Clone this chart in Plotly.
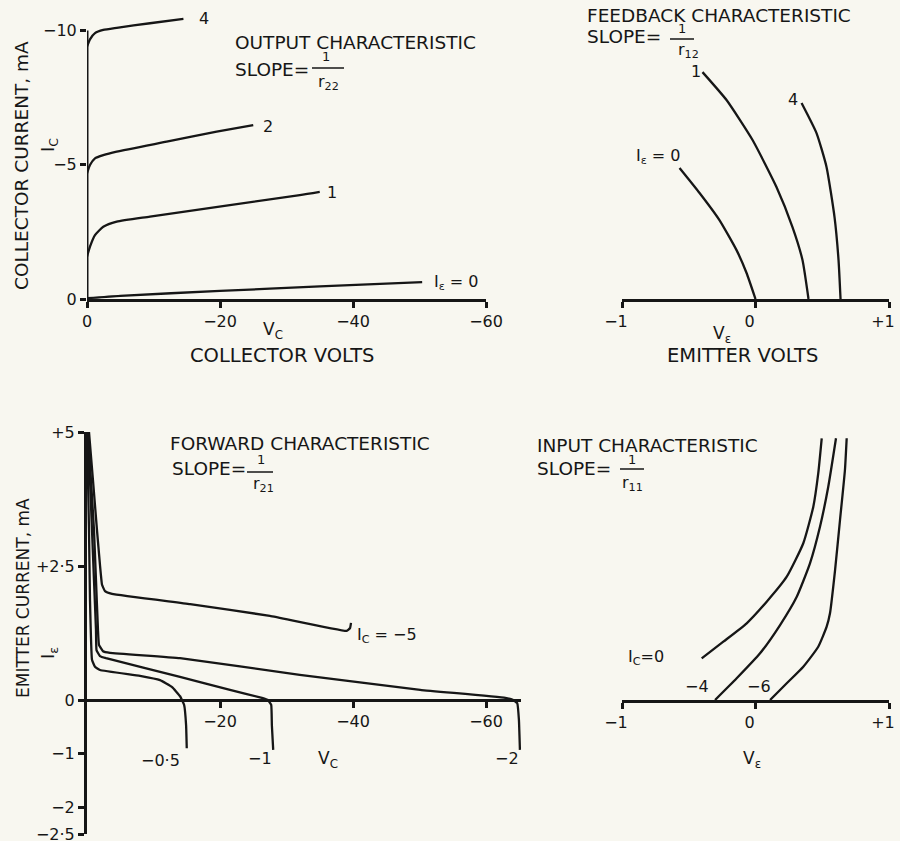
import plotly.graph_objects as go

W, H = 900, 841
FONT = "DejaVu Sans"
INK = "#161616"
BG = "#f8f7f0"

# ---------------- data ----------------
# Output characteristic: collector volts vs collector current (mA), per emitter current
out_vc_ie4 = [0, -0.45, -1.2, -2.45, -4.47, -9.47, -14.5]
out_ic_ie4 = [-9.40, -9.67, -9.90, -10.02, -10.10, -10.27, -10.43]
out_vc_ie2 = [0, -0.45, -1.2, -2.45, -4.47, -11.98, -19.5, -25.0]
out_ic_ie2 = [-4.68, -4.99, -5.24, -5.36, -5.49, -5.86, -6.23, -6.48]
out_vc_ie1 = [0, -0.45, -1.2, -2.45, -4.47, -9.47, -32.0, -35.0]
out_ic_ie1 = [-1.58, -1.95, -2.38, -2.69, -2.88, -3.07, -3.87, -3.99]
out_vc_ie0 = [0, -5, -20, -35, -50.4]
out_ic_ie0 = [-0.03, -0.12, -0.30, -0.47, -0.63]

# Feedback characteristic: emitter volts vs collector current (mA)
fb_ve_ie0 = [-0.569, -0.419, -0.270, -0.142, -0.067, 0.0]
fb_ic_ie0 = [-4.88, -3.95, -2.94, -1.82, -0.97, 0.0]
fb_ve_ie1 = [-0.397, -0.217, -0.022, 0.157, 0.277, 0.352, 0.397]
fb_ic_ie1 = [-8.45, -7.41, -5.92, -4.17, -2.68, -1.45, 0.0]
fb_ve_ie4 = [0.345, 0.457, 0.532, 0.592, 0.622, 0.637]
fb_ic_ie4 = [-7.30, -6.18, -4.92, -3.05, -1.45, 0.0]

# Forward characteristic: collector volts vs emitter current (mA), per collector current
fw_vc_ic5 = [-0.3, -0.9, -1.5, -1.95, -2.26, -2.71, -3.76, -15.5, -27.5, -39.05, -39.55, -39.7]
fw_ie_ic5 = [5.0, 4.10, 3.17, 2.52, 2.15, 2.03, 1.98, 1.79, 1.57, 1.29, 1.34, 1.44]
fw_vc_ic2 = [-0.15, -0.6, -1.05, -1.35, -1.65, -1.8, -2.41, -3.46, -13.98, -32.0, -50.1,
             -62.9, -64.1, -64.7, -64.95, -65.1]
fw_ie_ic2 = [5.0, 4.10, 3.17, 2.24, 1.31, 1.03, 0.91, 0.88, 0.78, 0.47, 0.19,
             0.04, 0.0, -0.06, -0.37, -0.93]
fw_vc_ic1 = [-0.15, -0.45, -0.75, -1.05, -1.35, -1.43, -1.95, -2.86, -13.98, -21.5, -26.3,
             -27.2, -27.7, -27.8, -28.0]
fw_ie_ic1 = [5.0, 4.10, 3.17, 2.24, 1.31, 0.93, 0.82, 0.78, 0.43, 0.19, 0.04,
             0.0, -0.09, -0.47, -0.93]
fw_vc_ic05 = [-0.08, -0.15, -0.3, -0.45, -0.75, -1.2, -1.95, -7.97, -10.98, -12.8, -14.0,
              -14.6, -14.9, -15.0]
fw_ie_ic05 = [5.0, 4.10, 3.17, 1.87, 0.75, 0.62, 0.56, 0.45, 0.37, 0.24, 0.07,
              -0.09, -0.47, -0.90]

# Input characteristic: emitter volts vs emitter current (mA), per collector current
in_ve_ic0 = [-0.403, -0.241, -0.066, 0.084, 0.234, 0.358, 0.433, 0.470, 0.496]
in_ie_ic0 = [0.778, 1.088, 1.431, 1.834, 2.300, 2.924, 3.607, 4.229, 4.883]
in_ve_ic4 = [-0.303, -0.141, 0.034, 0.184, 0.309, 0.408, 0.483, 0.545, 0.603]
in_ie_ic4 = [0.0, 0.405, 0.871, 1.399, 1.927, 2.550, 3.233, 3.979, 4.883]
in_ve_ic6 = [0.109, 0.234, 0.358, 0.470, 0.533, 0.558, 0.596, 0.633, 0.670, 0.683]
in_ie_ic6 = [0.0, 0.312, 0.621, 0.994, 1.368, 1.618, 2.425, 3.358, 4.291, 4.883]

# tick labels
out_x_ticks = [0, -20, -40, -60]
out_x_text = ["0", "\u221220", "\u221240", "\u221260"]
out_y_ticks = [0, -5, -10]
out_y_text = ["0", "\u22125", "\u221210"]
ve_ticks = [-1, 0, 1]
ve_text = ["\u22121", "0", "+1"]
fw_x_ticks = [-20, -40, -60]
fw_x_text = ["\u221220", "\u221240", "\u221260"]
fw_y_ticks = [5, 2.5, 0, -1, -2, -2.5]
fw_y_text = ["+5", "+2\u00b75", "0", "\u22121", "\u22122", "\u22122\u00b75"]


def fx(p):
    return p / W


def fy(p):
    return 1 - p / H


fig = go.Figure()

LINE = dict(color=INK, width=2.3, shape="spline", smoothing=0.5)


def curve(x, y, xa, ya, smooth=0.5):
    ln = dict(LINE)
    ln["smoothing"] = smooth
    fig.add_trace(go.Scatter(x=x, y=y, mode="lines", line=ln, xaxis=xa, yaxis=ya,
                             hoverinfo="skip", showlegend=False))


curve(out_vc_ie4, out_ic_ie4, "x", "y")
curve(out_vc_ie2, out_ic_ie2, "x", "y")
curve(out_vc_ie1, out_ic_ie1, "x", "y")
curve(out_vc_ie0, out_ic_ie0, "x", "y")

curve(fb_ve_ie0, fb_ic_ie0, "x2", "y2")
curve(fb_ve_ie1, fb_ic_ie1, "x2", "y2")
curve(fb_ve_ie4, fb_ic_ie4, "x2", "y2")

curve(fw_vc_ic5, fw_ie_ic5, "x3", "y3", 0.3)
curve(fw_vc_ic2, fw_ie_ic2, "x3", "y3", 0.3)
curve(fw_vc_ic1, fw_ie_ic1, "x3", "y3", 0.3)
curve(fw_vc_ic05, fw_ie_ic05, "x3", "y3", 0.3)

curve(in_ve_ic0, in_ie_ic0, "x4", "y4")
curve(in_ve_ic4, in_ie_ic4, "x4", "y4")
curve(in_ve_ic6, in_ie_ic6, "x4", "y4")

TICKF = dict(family=FONT, size=16, color=INK)
AX = dict(showgrid=False, zeroline=False, ticks="outside", ticklen=6, tickwidth=2.5,
          tickcolor=INK, linecolor=INK, linewidth=3, tickfont=TICKF, fixedrange=True,
          automargin=False, ticklabeloverflow="allow")

top_y_dom = [fy(299), fy(10)]
top_y_rng = [0, -289 / 26.85]

fig.update_layout(
    width=W, height=H, autosize=False, margin=dict(l=0, r=0, t=0, b=0, pad=0),
    paper_bgcolor=BG, plot_bgcolor="rgba(0,0,0,0)", showlegend=False,
    xaxis=dict(AX, domain=[fx(87), fx(486)], range=[0, -60], anchor="y", showline=True,
               tickvals=out_x_ticks, ticktext=out_x_text),
    yaxis=dict(AX, domain=top_y_dom, range=top_y_rng, anchor="x", showline=False,
               tickvals=out_y_ticks, ticktext=out_y_text),
    xaxis2=dict(AX, domain=[fx(622), fx(889)], range=[-1, 1], anchor="y2", showline=True,
                tickvals=ve_ticks, ticktext=ve_text, ticklabelshift=-6),
    yaxis2=dict(domain=top_y_dom, range=top_y_rng, anchor="x2", visible=False,
                fixedrange=True, automargin=False),
    xaxis3=dict(AX, domain=[fx(87), fx(87 + 65.3 * 6.65)], range=[0, -65.3], anchor="free",
                position=fy(700), showline=True, tickvals=fw_x_ticks, ticktext=fw_x_text),
    yaxis3=dict(AX, domain=[fy(834), fy(432)], range=[-2.5, 5], anchor="x3", showline=True,
                tickvals=fw_y_ticks, ticktext=fw_y_text),
    xaxis4=dict(AX, domain=[fx(622), fx(889)], range=[-1, 1], anchor="y4", showline=True,
                tickvals=ve_ticks, ticktext=ve_text, ticklabelshift=-6),
    yaxis4=dict(domain=[fy(700), fy(432)], range=[0, 5], anchor="x4", visible=False,
                fixedrange=True, automargin=False),
)

shapes = []
# vertical axis line of the output characteristic, from 0 to -10 mA
shapes.append(dict(type="line", xref="x", yref="y", x0=0, x1=0, y0=0, y1=-10,
                   line=dict(color=INK, width=3)))


def bar(x0, x1, y):
    shapes.append(dict(type="line", xref="paper", yref="paper", x0=fx(x0), x1=fx(x1),
                       y0=fy(y), y1=fy(y), line=dict(color=INK, width=1.5)))


bar(312, 344, 68)
bar(670, 694, 39)
bar(247, 273, 472)
bar(620, 644, 469)
fig.update_layout(shapes=shapes)

anns = []


def T(text, x, y, size=15, xanchor="center", yanchor="middle", angle=0):
    anns.append(dict(text=text, x=fx(x), y=fy(y), xref="paper", yref="paper",
                     showarrow=False, xanchor=xanchor, yanchor=yanchor, textangle=angle,
                     font=dict(family=FONT, size=size, color=INK)))


TS = 18.5
# top-left
T("OUTPUT CHARACTERISTIC", 233, 43, TS, "left")
T("SLOPE=", 233, 70, TS, "left")
T("1", 326, 57, 13)
T("r<sub>22</sub>", 328, 82, 16)
T("4", 197, 19, 16, "left")
T("2", 261, 126, 16, "left")
T("1", 325, 192, 16, "left")
T("I<sub>\u03b5</sub> = 0", 432, 283, 16, "left")
T("V<sub>C</sub>", 273, 330, 17)
T("COLLECTOR VOLTS", 282, 355, 19.5)
T("COLLECTOR CURRENT, mA", 22, 166, 18.5, angle=-90)
T("I<sub>C</sub>", 49, 145, 18, angle=-90)

# top-right
T("FEEDBACK CHARACTERISTIC", 585, 16, TS, "left")
T("SLOPE=", 585, 37, TS, "left")
T("1", 682, 29, 13)
T("r<sub>12</sub>", 688, 51, 16)
T("1", 696, 71, 16)
T("4", 793, 100, 16)
T("I<sub>\u03b5</sub> = 0", 658, 157, 16)
T("V<sub>\u03b5</sub>", 722, 334, 17)
T("EMITTER VOLTS", 742, 355, 19.5)

# bottom-left
T("FORWARD CHARACTERISTIC", 168, 443, TS, "left")
T("SLOPE=", 170, 468, TS, "left")
T("1", 261, 459, 13)
T("r<sub>21</sub>", 263, 484, 16)
T("I<sub>C</sub> = \u22125", 355, 635, 16, "left")
T("\u22120\u00b75", 160, 760, 16)
T("\u22121", 260, 758, 16)
T("\u22122", 507, 758, 16)
T("V<sub>C</sub>", 328, 759, 17)
T("EMITTER CURRENT, mA", 23, 598, 17, angle=-90)
T("I<sub>\u03b5</sub>", 49, 653, 18, angle=-90)

# bottom-right
T("INPUT CHARACTERISTIC", 535, 445, TS, "left")
T("SLOPE=", 535, 468, TS, "left")
T("1", 632, 459, 13)
T("r<sub>11</sub>", 632, 483, 16)
T("I<sub>C</sub>=0", 646, 657, 16)
T("\u22124", 697, 686, 16)
T("\u22126", 759, 686, 16)
T("V<sub>\u03b5</sub>", 752, 759, 17)

fig.update_layout(annotations=anns)
fig.write_html(
    "out.html",
    config={"responsive": False, "displayModeBar": False},
    post_script="document.body.style.margin='0';document.body.style.overflow='hidden';",
)
